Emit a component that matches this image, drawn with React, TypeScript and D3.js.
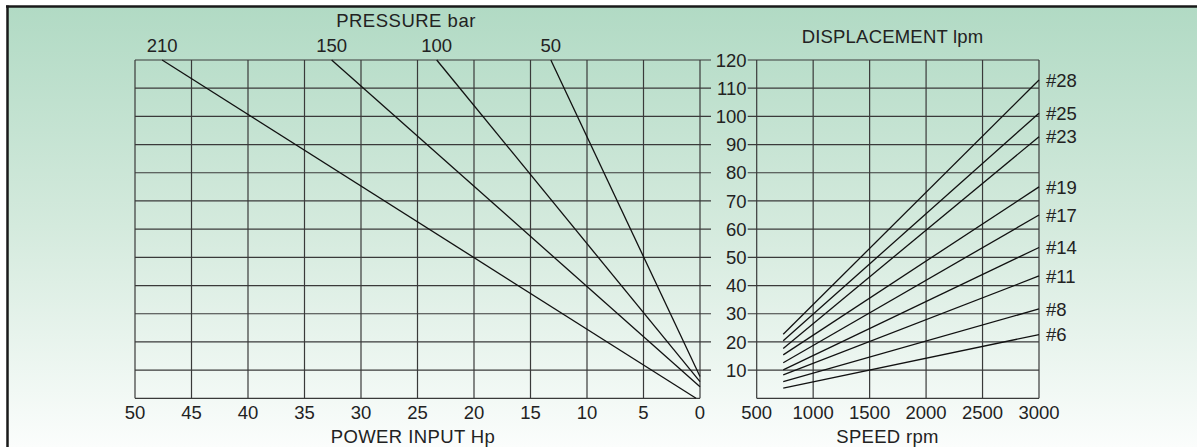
import React from "react";
import * as d3 from "d3";

// ---- data ----
const powerTicks = [50, 45, 40, 35, 30, 25, 20, 15, 10, 5, 0];
const speedTicks = [500, 1000, 1500, 2000, 2500, 3000];
const dispTicks = [10, 20, 30, 40, 50, 60, 70, 80, 90, 100, 110, 120];

// pressure lines: power (Hp) at 120 lpm, end point (Hp, lpm)
const pressureLabels = ["210", "150", "100", "50"];
const pressureTopHp = [47.6, 32.6, 23.3, 13.2];
const pressureEndHp = [0.35, 0, 0, 0];
const pressureEndQ = [0, 4.1, 5.9, 7.7];

// displacement lines: lpm at start speed and at 3000 rpm
const pumpLabels = ["#28", "#25", "#23", "#19", "#17", "#14", "#11", "#8", "#6"];
const pumpStartQ = [22.7, 20.4, 17.7, 15.4, 12.6, 10.1, 8.3, 5.9, 3.6];
const pumpEndQ = [112.9, 101.1, 92.8, 75.0, 65.0, 53.5, 43.4, 31.7, 22.6];
const startSpeed = 735;
const endSpeed = 3000;

const W = 1197;
const H = 447;
const FONT = "'Liberation Sans', Arial, sans-serif";

export default function App() {
  const xL = d3.scaleLinear().domain([50, 0]).range([135, 700]);
  const xR = d3.scaleLinear().domain([500, 3000]).range([756.7, 1039]);
  const y = d3.scaleLinear().domain([0, 120]).range([398.3, 60]);
  const line = d3.line<[number, number]>();

  const grid = "#3a3a3a";
  const txt = "#222";

  return (
    <svg
      width={W}
      height={H}
      style={{ position: "absolute", left: 0, top: 0 }}
      fontFamily={FONT}
    >
      <defs>
        <linearGradient id="bg" x1="0" y1="0" x2="0" y2="1">
          <stop offset="0" stopColor="#b1dac4" />
          <stop offset="0.5" stopColor="#d4eadd" />
          <stop offset="1" stopColor="#fbfdfc" />
        </linearGradient>
      </defs>
      <rect x={0} y={0} width={W} height={H} fill="#fff" />
      <rect x={7} y={6} width={W - 7} height={H - 6} fill="url(#bg)" />
      <line x1={6} x2={W} y1={6.5} y2={6.5} stroke="#1a1a1a" strokeWidth={2.5} />
      <line x1={7.5} x2={7.5} y1={5.5} y2={H} stroke="#1a1a1a" strokeWidth={2.5} />

      {/* grids */}
      <g stroke={grid} strokeWidth={1.2} fill="none">
        {powerTicks.map((t) => (
          <line key={"lv" + t} x1={xL(t)} x2={xL(t)} y1={y(120)} y2={y(0)} />
        ))}
        {dispTicks.map((t) => (
          <line key={"lh" + t} x1={xL(50)} x2={xL(0) + 11} y1={y(t)} y2={y(t)} />
        ))}
        <line x1={xL(50)} x2={xL(0)} y1={y(0)} y2={y(0)} />
        {speedTicks.map((t) => (
          <line key={"rv" + t} x1={xR(t)} x2={xR(t)} y1={y(120)} y2={y(0)} />
        ))}
        {dispTicks.map((t) => (
          <line key={"rh" + t} x1={xR(500) - 9} x2={xR(3000)} y1={y(t)} y2={y(t)} />
        ))}
        <line x1={xR(500)} x2={xR(3000)} y1={y(0)} y2={y(0)} />
      </g>

      {/* data lines */}
      <g stroke="#111" strokeWidth={1.3} fill="none">
        {pressureLabels.map((p, i) => (
          <path
            key={"p" + p}
            d={
              line([
                [xL(pressureTopHp[i]), y(120)],
                [xL(pressureEndHp[i]), y(pressureEndQ[i])],
              ]) || ""
            }
          />
        ))}
        {pumpLabels.map((p, i) => (
          <path
            key={"d" + p}
            d={
              line([
                [xR(startSpeed), y(pumpStartQ[i])],
                [xR(endSpeed), y(pumpEndQ[i])],
              ]) || ""
            }
          />
        ))}
      </g>

      {/* labels */}
      <g fill={txt} fontSize={18.5}>
        {powerTicks.map((t) => (
          <text key={"pt" + t} x={xL(t)} y={419} textAnchor="middle">
            {t}
          </text>
        ))}
        {speedTicks.map((t) => (
          <text key={"st" + t} x={xR(t)} y={419} textAnchor="middle">
            {t}
          </text>
        ))}
        {dispTicks.map((t) => (
          <text key={"dt" + t} x={746.5} y={y(t)} dy="0.36em" textAnchor="end">
            {t}
          </text>
        ))}
        {pressureLabels.map((p, i) => (
          <text key={"pl" + p} x={xL(pressureTopHp[i])} y={52.3} textAnchor="middle">
            {p}
          </text>
        ))}
        {pumpLabels.map((p, i) => (
          <text key={"ml" + p} x={1046} y={y(pumpEndQ[i])} dy="0.36em">
            {p}
          </text>
        ))}
        <text x={406} y={26.7} textAnchor="middle" letterSpacing={0.5}>
          PRESSURE bar
        </text>
        <text x={892.5} y={43.3} textAnchor="middle" letterSpacing={0.2}>
          DISPLACEMENT lpm
        </text>
        <text x={413} y={443} textAnchor="middle" letterSpacing={0.4}>
          POWER INPUT Hp
        </text>
        <text x={887.5} y={443} textAnchor="middle" letterSpacing={0.3}>
          SPEED rpm
        </text>
      </g>
    </svg>
  );
}
